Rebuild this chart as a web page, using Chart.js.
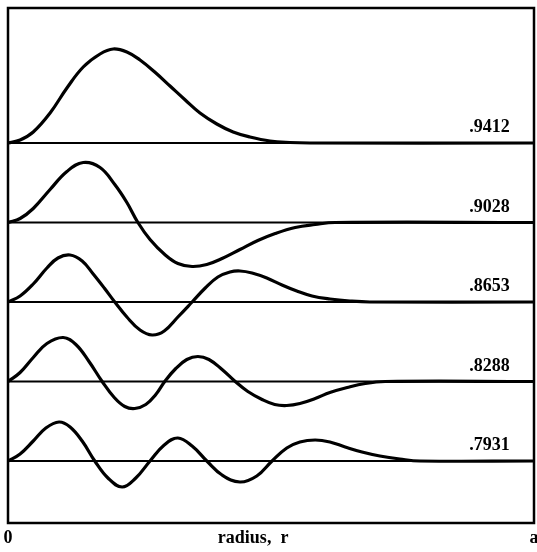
<!DOCTYPE html>
<html>
<head>
<meta charset="utf-8">
<script src="https://cdn.jsdelivr.net/npm/chart.js@4.4.1/dist/chart.umd.min.js"></script>
<style>
  html, body { margin: 0; padding: 0; background: #fff; }
  #wrap { width: 537px; height: 552px; }
</style>
</head>
<body>
<div id="wrap"><canvas id="modes"></canvas></div>
<script>
// radius as a fraction of a, and the mode amplitude read at that radius
const mode1R   = [0, .023, .048, .080, .112, .143, .175, .200, .226, .251, .279, .308, .337, .365, .397, .428, .460, .498, .536, .574, 1];
const mode1Psi = [0, 3, 11, 30, 55, 76, 89, 94, 91, 83, 71, 57, 43, 30, 19, 11, 6, 2, 0.5, 0, 0];

const mode2R   = [0, .023, .048, .080, .112, .143, .175, .203, .226, .247, .270, .298, .323, .350, .378, .407, .441, .475, .508, .546, .584, .622, 1];
const mode2Psi = [0, 4, 14, 33, 51, 60, 55, 38, 20, 0, -17, -32, -41, -44, -42, -36, -27, -18, -11, -5, -2, 0, 0];

const mode3R   = [0, .023, .048, .074, .095, .118, .141, .162, .183, .203, .226, .251, .274, .297, .323, .350, .375, .399, .422, .441, .464, .492, .521, .549, .578, .612, .650, .688, 1];
const mode3Psi = [0, 6, 18, 34, 44, 47, 41, 28, 14, 0, -15, -28, -33, -29, -15, 0, 14, 25, 30, 31, 29, 24, 17, 11, 6, 3, 1, 0, 0];

const mode4R   = [0, .023, .048, .074, .105, .129, .154, .179, .202, .222, .241, .262, .281, .298, .319, .340, .361, .382, .407, .432, .456, .483, .507, .530, .555, .584, .612, .645, .679, .717, 1];
const mode4Psi = [0, 9, 24, 38, 44, 37, 20, 0, -16, -25, -27, -23, -13, 0, 13, 22, 25, 22, 12, 0, -10, -18, -23, -24, -22, -17, -11, -6, -2, 0, 0];

const mode5R   = [0, .023, .048, .072, .097, .118, .141, .165, .190, .217, .243, .270, .297, .323, .350, .378, .407, .441, .473, .502, .530, .555, .584, .612, .641, .673, .707, .745, .783, 1];
const mode5Psi = [0, 7, 20, 33, 39, 34, 20, 0, -17, -26, -17, 0, 16, 23, 15, 0, -14, -21, -15, 0, 13, 19, 21, 19, 14, 9, 5, 2, 0, 0];

const eigenLabels = [".9412", ".9028", ".8653", ".8288", ".7931"];
const axisLabels = ["0", "radius,  r", "a"];
const axisLabelR = [0, 0.466, 1];

const modes = [
  [mode1R, mode1Psi],
  [mode2R, mode2Psi],
  [mode3R, mode3Psi],
  [mode4R, mode4Psi],
  [mode5R, mode5Psi]
];

// each mode is drawn on its own baseline, stacked from the top
const rowStep = 79.5;
const baseOf = i => (modes.length - 1 - i) * rowStep;

const datasets = [];
modes.forEach(([rs, psi], i) => {
  const base = baseOf(i);
  datasets.push({
    data: [{ x: 0, y: base }, { x: 1, y: base }],
    borderColor: "#000",
    borderWidth: 2,
    pointRadius: 0
  });
  datasets.push({
    data: rs.map((r, k) => ({ x: r, y: base + psi[k] })),
    borderColor: "#000",
    borderWidth: 3.2,
    pointRadius: 0,
    tension: 0.4
  });
});

const frameAndText = {
  id: "frameAndText",
  afterDraw(chart) {
    const { ctx, chartArea: a, scales } = chart;
    const xs = scales.x, ys = scales.y;
    ctx.save();
    ctx.strokeStyle = "#000";
    ctx.lineWidth = 2.5;
    ctx.strokeRect(a.left, a.top, a.right - a.left, a.bottom - a.top);

    ctx.fillStyle = "#000";
    ctx.font = "bold 18px 'Liberation Serif'";
    ctx.textAlign = "right";
    ctx.textBaseline = "alphabetic";
    eigenLabels.forEach((t, i) => {
      ctx.fillText(t, xs.getPixelForValue(0.954), ys.getPixelForValue(baseOf(i)) - 11);
    });

    ctx.font = "bold 18px 'Liberation Serif'";
    ctx.textAlign = "center";
    axisLabels.forEach((t, i) => {
      ctx.fillText(t, xs.getPixelForValue(axisLabelR[i]), a.bottom + 20);
    });
    ctx.restore();
  }
};

new Chart(document.getElementById("modes"), {
  type: "scatter",
  data: { datasets },
  options: {
    responsive: true,
    maintainAspectRatio: false,
    animation: false,
    showLine: true,
    layout: { padding: { left: 8, right: 3, top: 8, bottom: 29 } },
    plugins: { legend: { display: false }, tooltip: { enabled: false } },
    scales: {
      x: { type: "linear", min: 0, max: 1, display: false },
      y: { type: "linear", min: -62, max: 453, display: false }
    }
  },
  plugins: [frameAndText]
});
</script>
</body>
</html>
